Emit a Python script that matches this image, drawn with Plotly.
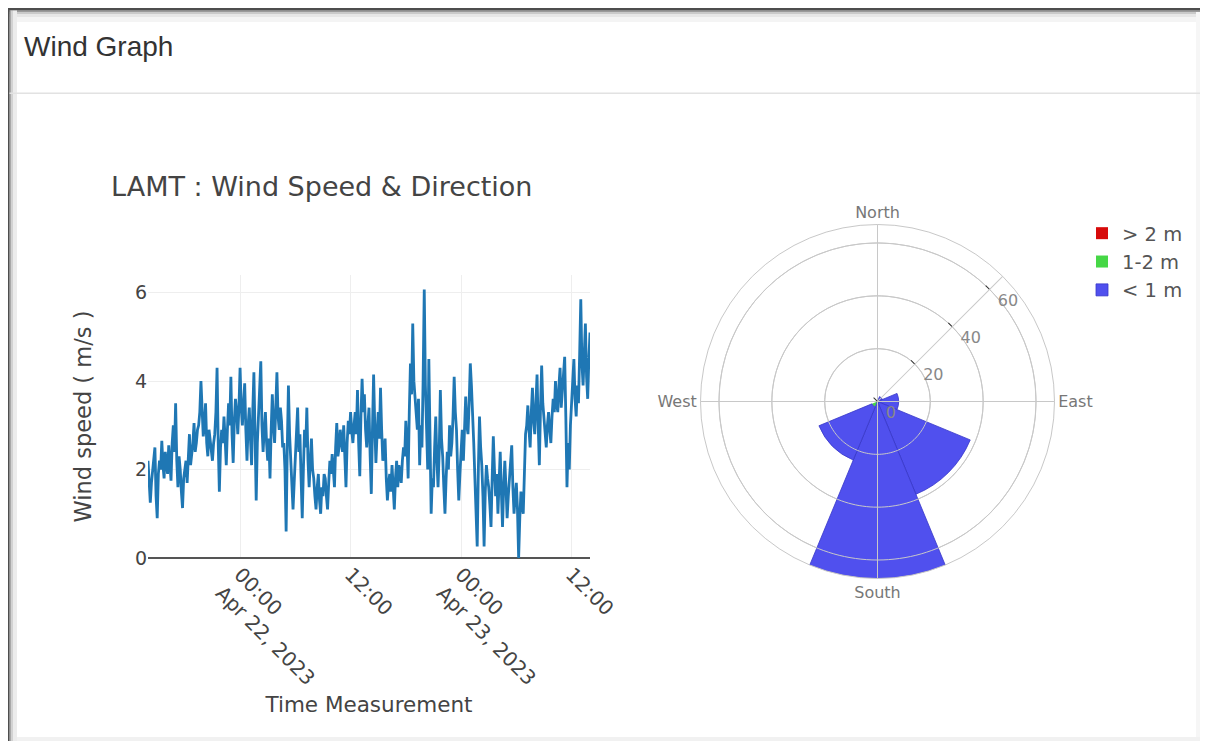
import plotly.graph_objects as go
import pandas as pd

# ---------------- data ----------------
start_time = "2023-04-21 14:00"
wind_speed = [
    2.2, 1.6, 1.25, 1.7, 2.0, 2.3, 2.5, 1.4, 0.9, 1.9, 2.2, 2.0, 2.65, 2.1, 1.8, 2.4, 2.1, 1.9, 2.55, 2.0,
    1.75, 2.6, 3.0, 2.4, 3.5, 2.2, 1.6, 2.3, 2.0, 1.5, 1.13, 1.8, 2.0, 2.2, 1.7, 2.4, 2.8, 2.1, 2.3, 2.6,
    3.05, 2.4, 2.6, 2.9, 3.0, 3.3, 4.0, 3.1, 2.75, 3.0, 3.5, 2.6, 2.3, 2.9, 2.7, 2.4, 2.2, 2.6, 2.8, 3.3,
    4.3, 2.6, 1.5, 2.5, 2.9, 2.6, 3.2, 2.7, 2.1, 2.9, 3.5, 3.0, 4.1, 2.8, 2.15, 3.1, 3.6, 3.3, 2.8, 3.4,
    4.3, 3.4, 3.0, 3.5, 3.95, 2.9, 2.2, 3.0, 3.4, 2.7, 2.1, 3.3, 4.2, 2.8, 1.3, 2.6, 3.2, 3.6, 4.45, 3.0,
    2.4, 2.9, 3.3, 2.6, 2.2, 2.7, 1.8, 2.9, 3.7, 3.0, 2.6, 3.4, 4.2, 3.2, 2.9, 3.4, 3.1, 2.5, 2.6, 2.0,
    0.6, 2.5, 3.9, 2.8, 2.3, 1.9, 1.1, 1.7, 2.2, 2.9, 3.4, 2.4, 2.8, 1.8, 0.9, 2.0, 2.9, 2.5, 3.4, 2.2,
    1.6, 2.2, 2.7, 2.0, 1.8, 1.4, 1.1, 1.6, 1.9, 1.3, 1.0, 1.6, 1.4, 1.9, 1.8, 1.4, 1.1, 1.7, 2.2, 1.9,
    2.35, 2.0, 1.6, 2.5, 3.05, 2.3, 2.5, 2.9, 2.7, 2.4, 3.0, 2.2, 1.6, 2.6, 3.1, 2.8, 3.3, 2.9, 2.6, 3.0,
    3.3, 2.8, 3.8, 2.6, 1.85, 3.2, 4.05, 3.3, 3.7, 2.9, 2.5, 3.0, 3.4, 2.3, 1.45, 2.9, 4.15, 3.0, 2.15, 2.8,
    3.3, 2.7, 3.85, 2.9, 2.2, 2.4, 2.7, 1.8, 1.3, 1.7, 1.9, 1.5, 2.1, 1.6, 1.1, 1.8, 2.2, 1.6, 2.1, 1.9,
    1.7, 2.2, 2.5, 2.3, 3.1, 2.6, 1.8, 3.3, 4.4, 3.7, 5.3, 4.0, 3.6, 3.4, 2.9, 3.6, 2.1, 3.0, 2.5, 4.0,
    6.07, 3.9, 3.0, 2.0, 4.5, 2.4, 1.0, 1.8, 1.6, 2.5, 3.2, 2.2, 1.6, 2.4, 3.8, 2.7, 2.3, 1.6, 1.0, 1.8,
    2.4, 2.0, 3.0, 2.3, 2.6, 3.2, 4.1, 3.3, 2.9, 2.0, 1.3, 1.9, 2.5, 2.9, 2.2, 2.8, 3.65, 3.0, 2.8, 3.5,
    4.4, 3.9, 3.4, 2.6, 1.8, 1.2, 0.26, 2.0, 3.2, 2.5, 2.1, 1.4, 0.26, 1.5, 2.1, 1.8, 1.6, 1.2, 0.7, 1.8,
    2.75, 2.0, 1.4, 1.9, 1.0, 1.7, 2.4, 1.5, 0.7, 1.6, 2.2, 1.6, 0.9, 1.4, 1.8, 2.1, 2.55, 1.6, 1.0, 1.4,
    1.7, 1.1, 0.0, 0.9, 1.5, 1.2, 1.0, 1.9, 2.8, 3.0, 3.45, 2.9, 2.5, 3.3, 3.85, 3.1, 2.8, 3.5, 4.15, 3.0,
    2.1, 3.4, 4.35, 3.5, 3.1, 2.7, 2.5, 3.0, 3.3, 2.9, 2.6, 3.2, 3.6, 3.3, 4.0, 3.5, 3.3, 3.9, 4.3, 3.4,
    3.8, 4.1, 4.55, 3.2, 1.6, 2.6, 2.0, 3.0, 3.5, 3.9, 4.5, 3.6, 3.2, 3.9, 3.5, 4.6, 5.85, 4.4, 3.9, 4.6,
    5.3, 4.1, 3.6, 4.5, 5.1,
]
times = pd.date_range(start_time, periods=len(wind_speed), freq="450s")

dir_degrees = [0, 45, 90, 135, 180, 225, 270, 315]
freq_gt2 = [0, 0, 0, 0, 0, 0, 0, 0]
freq_1to2 = [0, 0, 0, 0, 0, 2.3, 0, 0]
freq_lt1 = [0, 2, 8, 38, 67, 21.7, 0, 0]

compass_vals = [0, 90, 180, 270]
compass_text = ["North", "East", "South", "West"]
radial_ticks = [0, 20, 40, 60]
radial_max = 67

# ---------------- geometry helpers (screen px -> paper) ----------------
W, H = 1192, 733
OX, OY = 8, 8


def X(sx):
    return (sx - OX) / W


def Y(sy):
    return 1 - (sy - OY) / H


FONT = "DejaVu Sans"
GRID = "#c8c8c8"

fig = go.Figure()

fig.add_trace(go.Scatter(
    x=times, y=wind_speed, mode="lines",
    line=dict(color="#1f77b4", width=2.8),
    showlegend=False, xaxis="x", yaxis="y",
))

fig.add_trace(go.Barpolar(r=freq_gt2, theta=dir_degrees, name="&gt; 2 m",
                          marker=dict(color="rgb(215,10,10)", line=dict(width=0))))
fig.add_trace(go.Barpolar(r=freq_1to2, theta=dir_degrees, name="1-2 m",
                          marker=dict(color="rgb(70,215,70)", line=dict(width=0))))
fig.add_trace(go.Barpolar(r=freq_lt1, theta=dir_degrees, name="&lt; 1 m",
                          marker=dict(color="rgb(80,80,238)",
                                      line=dict(width=0.8, color="rgb(55,55,200)"))))

# grid lines redrawn above the bars (as in the reference)
ring_theta = list(range(0, 361, 2))
for rv in radial_ticks[1:]:
    fig.add_trace(go.Scatterpolar(r=[rv] * len(ring_theta), theta=ring_theta, mode="lines",
                                  line=dict(color=GRID, width=1), hoverinfo="skip",
                                  showlegend=False))
for tv in compass_vals:
    fig.add_trace(go.Scatterpolar(r=[0, radial_max], theta=[tv, tv], mode="lines",
                                  line=dict(color=GRID, width=1), hoverinfo="skip",
                                  showlegend=False))

fig.update_layout(
    width=W, height=H,
    margin=dict(l=0, r=0, t=0, b=0),
    paper_bgcolor="white", plot_bgcolor="white",
    template="none",
    font=dict(family=FONT, color="#444", size=16),
    title=dict(text="LAMT : Wind Speed &amp; Direction", x=X(111), xanchor="left",
               y=Y(187), yanchor="middle", font=dict(size=27, color="#444")),
    xaxis=dict(
        domain=[X(148), X(590)], anchor="y", type="date",
        range=[times[0], times[-1]],
        tickmode="linear", tick0="2023-04-22 00:00", dtick=43200000,
        tickangle=45, tickfont=dict(size=20),
        showgrid=True, gridcolor="#eee", zeroline=False, showline=False, ticks="",
        title=dict(text="Time Measurement", font=dict(size=21.5)),
    ),
    yaxis=dict(
        domain=[Y(558), Y(275)], anchor="x",
        range=[0, 6.4], tickmode="linear", tick0=0, dtick=2,
        tickfont=dict(size=19),
        showgrid=True, gridcolor="#eee",
        zeroline=True, zerolinecolor="#555", zerolinewidth=2, showline=False, ticks="",
        title=dict(text="Wind speed ( m/s )", font=dict(size=22.5), standoff=37),
    ),
    polar=dict(
        domain=dict(x=[X(700.5), X(1054.5)], y=[Y(578.5), Y(224.5)]),
        bgcolor="white",
        barmode="stack",
        bargap=0,
        radialaxis=dict(
            range=[0, radial_max], angle=45, tickmode="array", tickvals=radial_ticks,
            ticks="inside", ticklen=5, tickcolor="#333",
            showline=True, linecolor=GRID, gridcolor=GRID,
            tickfont=dict(size=16, color="#888"), tickangle=45,
            layer="above traces",
        ),
        angularaxis=dict(
            direction="clockwise", rotation=90,
            tickmode="array", tickvals=compass_vals, ticktext=compass_text,
            ticks="", showline=True, linecolor=GRID, gridcolor=GRID,
            tickfont=dict(size=16, color="#777"),
            layer="above traces",
        ),
    ),
    legend=dict(
        x=X(1082), y=Y(214), xanchor="left", yanchor="top",
        font=dict(size=19.5, color="#555"), traceorder="normal",
        bgcolor="rgba(0,0,0,0)",
    ),
)

# ---------------- card decoration ----------------
shapes = []


def hrect(y0, y1, color, x0=0, x1=1):
    shapes.append(dict(type="rect", xref="paper", yref="paper", x0=x0, x1=x1,
                       y0=Y(y1), y1=Y(y0), fillcolor=color, line=dict(width=0), layer="below"))


def vrect(x0, x1, color, y0=0, y1=1):
    shapes.append(dict(type="rect", xref="paper", yref="paper", x0=X(x0), x1=X(x1),
                       y0=y0, y1=y1, fillcolor=color, line=dict(width=0), layer="below"))


# top shadow gradient
hrect(17, 22, "#f4f4f4")
hrect(14, 17, "#e6e6e6")
hrect(12, 14, "#c9c9c9")
hrect(10.5, 12, "#9a9a9a")
hrect(8, 10.5, "#4e4e4e")
# left shadow gradient
vrect(13, 17, "#ececec", y1=Y(10.5))
vrect(11, 13, "#d2d2d2", y1=Y(10.5))
vrect(9.5, 11, "#a8a8a8", y1=Y(10.5))
vrect(8, 9.5, "#4e4e4e")
# right / bottom faint edges
vrect(1196, 1200, "#f6f6f6", y1=Y(12))
hrect(737, 741, "#f1f1f1", x0=X(17))
# header separator
hrect(92.5, 94, "#e2e2e2", x0=X(9.5))

fig.update_layout(shapes=shapes)

fig.add_annotation(
    text="Wind Graph", xref="paper", yref="paper", x=X(22), y=Y(47),
    xanchor="left", yanchor="middle", showarrow=False,
    font=dict(family="Liberation Sans", size=28, color="#333"),
)

fig.write_html("out.html")
